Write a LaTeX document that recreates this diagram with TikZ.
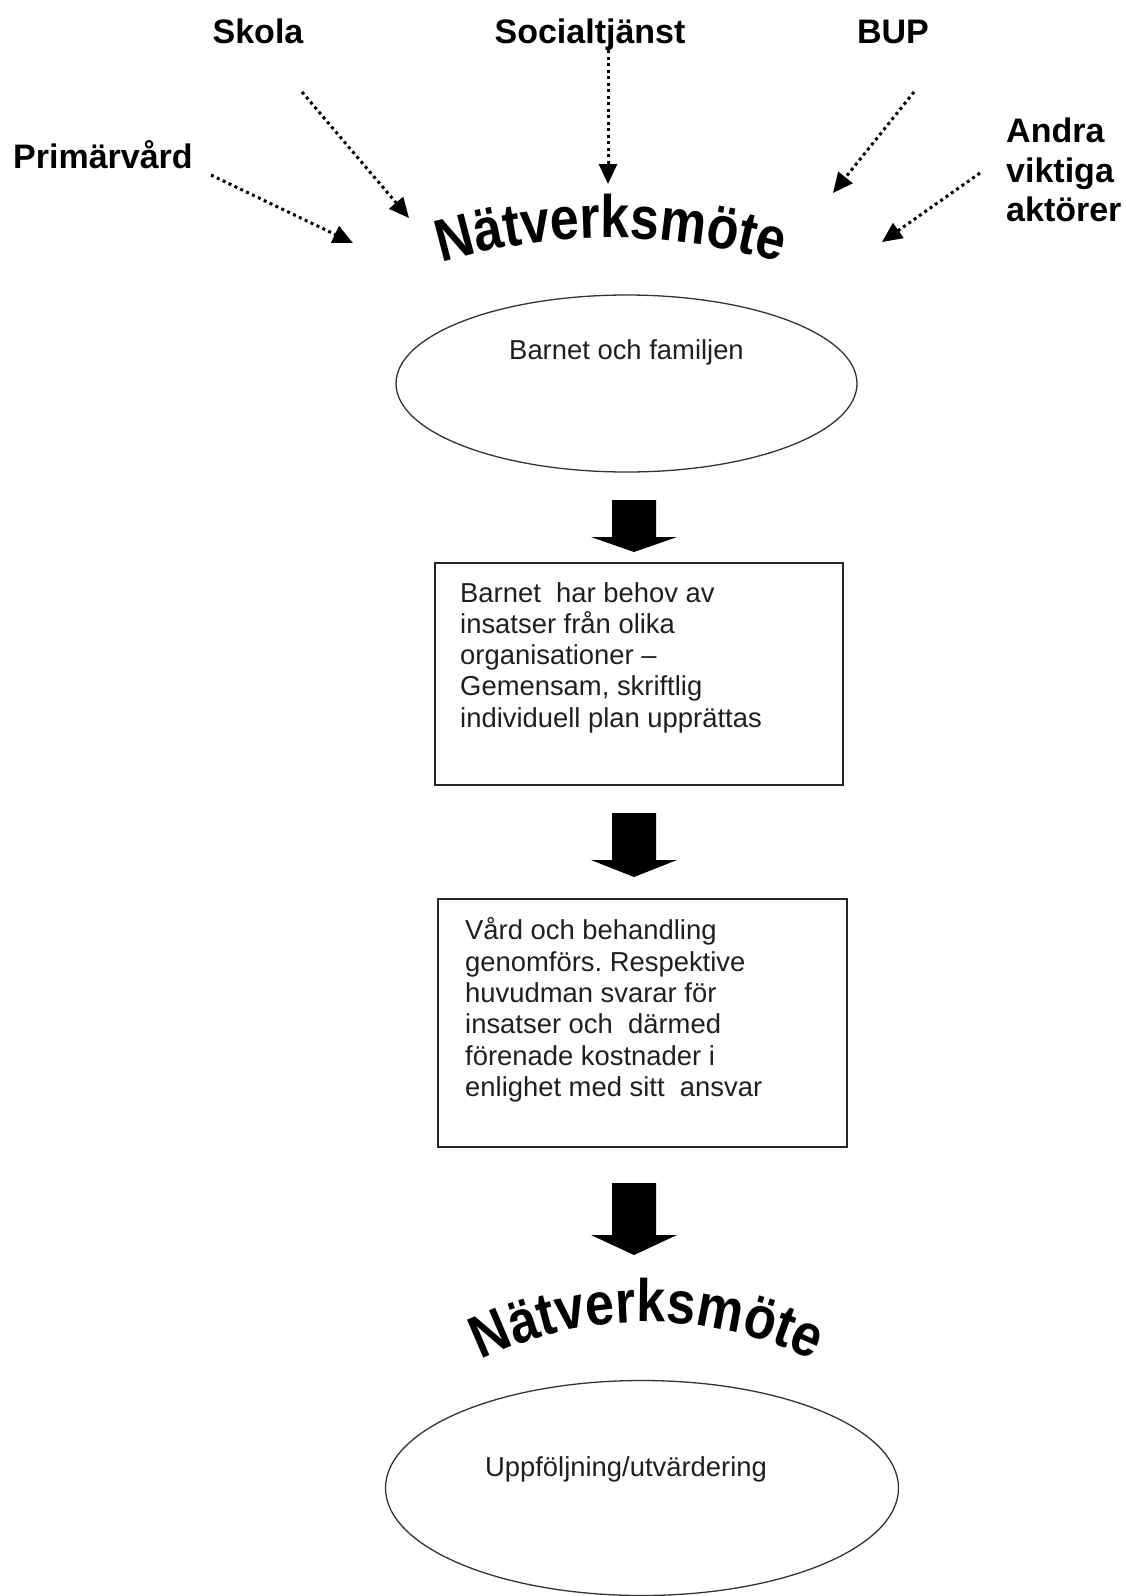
\documentclass[tikz,border=0pt]{standalone}
\usepackage{fontspec}
\setmainfont{Liberation Sans}
\usetikzlibrary{arrows.meta, calc, shapes.geometric, decorations.text}

\newcommand{\bodysize}{\fontsize{27.4}{31.3}\selectfont}
\newcommand{\actorsize}{\fontsize{34}{39.5}\selectfont\bfseries}
\newcommand{\arcfont}{\fontsize{50}{60}\selectfont\bfseries}
\newcommand{\tallglyph}[1]{\scalebox{1.04}[1.2]{#1}}

\tikzset{
	actor/.style={font=\actorsize, inner sep=0pt},
	dotarrow/.style={
		-{Triangle[length=20pt, width=18pt]},
		line width=3pt, dash pattern=on 3pt off 3.5pt
	},
	meetell/.style={ellipse, draw=black!80, line width=1.3pt, inner sep=0pt},
	planbox/.style={rectangle, draw=black!85, line width=1.3pt, inner sep=0pt},
	bodytext/.style={font=\bodysize, align=left, inner sep=0pt, text=black!88},
	blockarr/.style={fill=black},
	archtext/.style={
		decorate, decoration={text effects along path, text={Nätverksmöte},
			text align=center, text effects/.cd, text along path,
			characters={font=\arcfont, inner sep=0pt},
			character command=\tallglyph}
	}
}

\begin{document}
\frenchspacing
\begin{tikzpicture}[x=1pt, y=-1pt]
	\useasboundingbox (0,0) rectangle (1126,1596);
	
	%% actors
	\node[actor, anchor=base] (skola)  at (258,43)  {Skola};
	\node[actor, anchor=base] (social) at (590,43)  {Socialtjänst};
	\node[actor, anchor=base] (bup)    at (893,43)  {BUP};
	\node[actor, anchor=base] (prim)   at (103,168) {Primärvård};
	\node[actor, align=left, anchor=north west] (andra) at (1006,118) {Andra\\viktiga\\aktörer};
	
	%% dotted arrows towards the meeting
	\coordinate (prim-from)   at (211,175);
	\coordinate (prim-to)     at (353,243);
	\coordinate (skola-from)  at (302,92);
	\coordinate (skola-to)    at (409,218);
	\coordinate (social-from) at (608,50);
	\coordinate (social-to)   at (608,184);
	\coordinate (bup-from)    at (914,92);
	\coordinate (bup-to)      at (833,193);
	\coordinate (andra-from)  at (980,173);
	\coordinate (andra-to)    at (882,242);
	\foreach \src in {prim, skola, social, bup, andra}
		\draw[dotarrow] (\src-from) -- (\src-to);
	
	%% first meeting
	\path[archtext] ($(611,838)+(-115:600)$) arc[start angle=-115, end angle=-65, radius=600];
	\node[meetell, minimum width=461pt, minimum height=177pt] (family) at (626.5,383.5) {};
	\node[bodytext, anchor=base] (familytxt) at ($(family.center)+(0,-24.5)$) {Barnet och familjen};
	
	%% plan
	\node[planbox, minimum width=408pt, minimum height=222pt] (needs) at (639,674) {};
	\node[bodytext, anchor=north west] (needstxt) at (460,582) {Barnet\ \ har behov av\\insatser från olika\\organisationer --\\Gemensam, skriftlig\\individuell plan upprättas};
	
	%% care
	\node[planbox, minimum width=409pt, minimum height=248pt] (care) at (642.5,1023) {};
	\node[bodytext, anchor=north west] (caretxt) at (465,917.5) {Vård och behandling\\genomförs. Respektive\\huvudman svarar för\\insatser och\ \ därmed\\förenade kostnader i\\enlighet med sitt\ \ ansvar};
	
	%% block arrows
	\foreach \t/\h/\b in {500/537/552, 813/860/877, 1183/1235/1255}
		\fill[blockarr] (612,\t) -- (656,\t) -- (656,\h) -- (677,\h) -- (634,\b) -- (591,\h) -- (612,\h) -- cycle;
	
	%% second meeting
	\path[archtext] ($(647,1702)+(-120:380)$) arc[start angle=-120, end angle=-60, radius=380];
	\node[meetell, minimum width=513pt, minimum height=215pt] (followup) at (642,1488) {};
	\node[bodytext, anchor=base] (followuptxt) at (626,1476) {Uppföljning/utvärdering};
\end{tikzpicture}
\end{document}
